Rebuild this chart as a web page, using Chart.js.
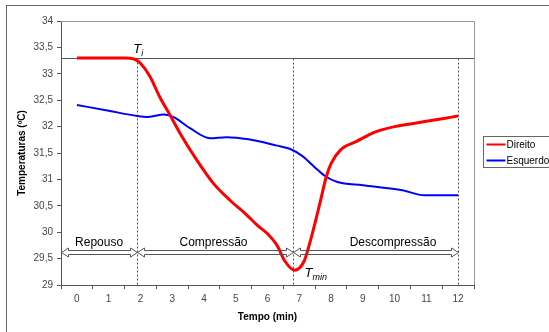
<!DOCTYPE html>
<html>
<head>
<meta charset="utf-8">
<script src="https://cdn.jsdelivr.net/npm/chart.js@4"></script>
<style>
  body { margin: 0; background: #fff; }
  canvas { display: block; }
</style>
</head>
<body>
<canvas id="chart" width="549" height="332"></canvas>
<script>
// red series (Direito): time in min, temperature in ºC
var direitoT = [0, 0.5, 1, 1.5, 1.8, 2, 2.3, 2.6, 2.93, 3.24, 3.77, 4.29, 4.81, 5.34, 5.7, 6, 6.3, 6.55, 6.85, 7.15, 7.4, 7.65, 7.85, 8, 8.3, 8.8, 9.4, 10, 10.5, 11, 11.5, 12];
var direitoV = [33.3, 33.3, 33.3, 33.3, 33.28, 33.2, 32.95, 32.57, 32.22, 31.88, 31.37, 30.93, 30.61, 30.33, 30.12, 29.97, 29.75, 29.45, 29.28, 29.45, 29.95, 30.55, 31.05, 31.3, 31.56, 31.72, 31.9, 32.0, 32.05, 32.1, 32.15, 32.2];

// blue series (Esquerdo)
var esquerdoT = [0, 1, 1.9, 2.2, 2.75, 3.05, 3.56, 4.19, 4.71, 5.4, 6.3, 6.7, 7.1, 7.45, 7.8, 8.2, 9, 10.2, 10.95, 12];
var esquerdoV = [32.41, 32.3, 32.2, 32.18, 32.23, 32.18, 31.97, 31.78, 31.8, 31.76, 31.64, 31.58, 31.44, 31.25, 31.07, 30.95, 30.89, 30.8, 30.7, 30.7];

// annotations
var tInicial = 33.3;
var fases = ['Repouso', 'Compressão', 'Descompressão'];
var faseLimites = [-0.5, 1.9, 6.8, 12];
var faseTextoX = [0.7, 4.3, 9.95];
var faseSetaY = 29.62;
var tMinPonto = [6.85, 29.28];

var FONT = '"Liberation Sans", Arial, sans-serif';

function pts(t, v) {
    return t.map(function (x, i) { return { x: x, y: v[i] }; });
}

function seta(ctx, x1, x2, y) {
    var h = 2, hh = 4.5, L = 7;
    ctx.beginPath();
    ctx.moveTo(x1, y);
    ctx.lineTo(x1 + L, y - hh);
    ctx.lineTo(x1 + L, y - h);
    ctx.lineTo(x2 - L, y - h);
    ctx.lineTo(x2 - L, y - hh);
    ctx.lineTo(x2, y);
    ctx.lineTo(x2 - L, y + hh);
    ctx.lineTo(x2 - L, y + h);
    ctx.lineTo(x1 + L, y + h);
    ctx.lineTo(x1 + L, y + hh);
    ctx.closePath();
    ctx.stroke();
}

var extras = {
    id: 'extras',
    beforeDraw: function (chart) {
        var ctx = chart.ctx;
        ctx.save();
        ctx.fillStyle = '#fff';
        ctx.fillRect(0, 0, chart.width, chart.height);
        ctx.strokeStyle = '#666';
        ctx.lineWidth = 1;
        ctx.strokeRect(6.5, 5.5, chart.width + 10, chart.height + 10);
        ctx.restore();
    },
    beforeDatasetsDraw: function (chart) {
        var ctx = chart.ctx, a = chart.chartArea;
        var xs = chart.scales.x, ys = chart.scales.y;
        ctx.save();
        // plot border top / right
        ctx.strokeStyle = '#999';
        ctx.lineWidth = 1;
        ctx.beginPath();
        ctx.moveTo(a.left, Math.round(a.top) + 0.5);
        ctx.lineTo(Math.round(a.right) + 0.5, Math.round(a.top) + 0.5);
        ctx.lineTo(Math.round(a.right) + 0.5, a.bottom);
        ctx.stroke();
        // Ti line
        var yi = Math.round(ys.getPixelForValue(tInicial)) + 0.5;
        ctx.strokeStyle = '#555';
        ctx.beginPath();
        ctx.moveTo(a.left, yi);
        ctx.lineTo(a.right, yi);
        ctx.stroke();
        // dotted phase limits
        ctx.setLineDash([2, 2]);
        for (var i = 1; i < faseLimites.length; i++) {
            var x = Math.round(xs.getPixelForValue(faseLimites[i])) + 0.5;
            ctx.beginPath();
            ctx.moveTo(x, yi);
            ctx.lineTo(x, a.bottom);
            ctx.stroke();
        }
        ctx.restore();
    },
    afterDatasetsDraw: function (chart) {
        var ctx = chart.ctx;
        var xs = chart.scales.x, ys = chart.scales.y;
        ctx.save();
        // phase arrows and names
        var y = Math.round(ys.getPixelForValue(faseSetaY)) + 0.5;
        ctx.strokeStyle = '#555';
        ctx.lineWidth = 1;
        ctx.font = '12px ' + FONT;
        ctx.fillStyle = '#000';
        ctx.textAlign = 'center';
        ctx.textBaseline = 'alphabetic';
        for (var i = 0; i < fases.length; i++) {
            var x1 = Math.round(xs.getPixelForValue(faseLimites[i])) + 0.5;
            var x2 = Math.round(xs.getPixelForValue(faseLimites[i + 1])) + 0.5;
            seta(ctx, x1, x2, y);
            ctx.fillText(fases[i], xs.getPixelForValue(faseTextoX[i]), y - 7);
        }
        // Ti
        ctx.textAlign = 'left';
        var xi = xs.getPixelForValue(faseLimites[1]);
        var yi = ys.getPixelForValue(tInicial);
        ctx.font = 'italic 13px ' + FONT;
        ctx.fillText('T', xi - 4, yi - 5);
        ctx.font = 'italic 9px ' + FONT;
        ctx.fillText('i', xi + 4, yi - 2);
        // Tmin
        var xm = xs.getPixelForValue(tMinPonto[0]);
        var ym = ys.getPixelForValue(tMinPonto[1]);
        ctx.font = 'italic 13px ' + FONT;
        ctx.fillText('T', xm + 10, ym + 7);
        ctx.font = 'italic 9px ' + FONT;
        ctx.fillText('min', xm + 18, ym + 10);
        // legend
        var lx = 483.5, ly = 136.5;
        ctx.strokeStyle = '#666';
        ctx.strokeRect(lx, ly, 80, 31);
        ctx.font = '10px ' + FONT;
        ctx.textBaseline = 'middle';
        chart.data.datasets.forEach(function (ds, k) {
            var yy = ly + 8 + k * 16;
            ctx.strokeStyle = ds.borderColor;
            ctx.lineWidth = 2;
            ctx.beginPath();
            ctx.moveTo(lx + 3, yy);
            ctx.lineTo(lx + 22, yy);
            ctx.stroke();
            ctx.fillStyle = '#000';
            ctx.fillText(ds.label, lx + 23, yy + 1);
        });
        ctx.restore();
    }
};

new Chart(document.getElementById('chart'), {
    type: 'line',
    data: {
        datasets: [{
            label: 'Direito',
            data: pts(direitoT, direitoV),
            borderColor: '#ff0000',
            borderWidth: 3,
            pointRadius: 0,
            cubicInterpolationMode: 'monotone',
            fill: false
        }, {
            label: 'Esquerdo',
            data: pts(esquerdoT, esquerdoV),
            borderColor: '#0000ff',
            borderWidth: 2,
            pointRadius: 0,
            cubicInterpolationMode: 'monotone',
            fill: false
        }]
    },
    options: {
        responsive: false,
        animation: false,
        devicePixelRatio: 1,
        layout: { padding: { left: 0, top: 21, right: 75, bottom: 0 } },
        plugins: {
            legend: { display: false },
            tooltip: { enabled: false }
        },
        scales: {
            x: {
                type: 'linear',
                min: -0.5,
                max: 12.5,
                afterFit: function (s) { s.height = 47; },
                afterBuildTicks: function (s) {
                    var t = [];
                    for (var v = -0.5; v <= 12.5; v += 0.5) t.push({ value: v });
                    s.ticks = t;
                },
                ticks: {
                    autoSkip: false,
                    maxRotation: 0,
                    padding: 4,
                    color: '#444',
                    font: { family: FONT, size: 10 },
                    callback: function (v) { return Number.isInteger(v) ? String(v) : ''; }
                },
                grid: {
                    drawOnChartArea: false,
                    tickLength: 4,
                    tickColor: function (c) {
                        return c.tick && !Number.isInteger(c.tick.value) ? '#555' : 'rgba(0,0,0,0)';
                    }
                },
                border: { color: '#555' },
                title: {
                    display: true,
                    text: 'Tempo (min)',
                    color: '#000',
                    font: { family: FONT, size: 10, weight: 'bold' },
                    padding: { top: 0, bottom: 9 }
                }
            },
            y: {
                min: 29,
                max: 34,
                afterFit: function (s) { s.width = 61; },
                ticks: {
                    stepSize: 0.5,
                    padding: 4,
                    color: '#444',
                    font: { family: FONT, size: 10 },
                    callback: function (v) { return String(v).replace('.', ','); }
                },
                grid: {
                    drawOnChartArea: false,
                    tickLength: 4,
                    tickColor: '#555'
                },
                border: { color: '#555' },
                title: {
                    display: true,
                    text: 'Temperaturas (ºC)',
                    color: '#000',
                    font: { family: FONT, size: 10, weight: 'bold' },
                    padding: { top: 16, bottom: 0 }
                }
            }
        }
    },
    plugins: [extras]
});
</script>
</body>
</html>
